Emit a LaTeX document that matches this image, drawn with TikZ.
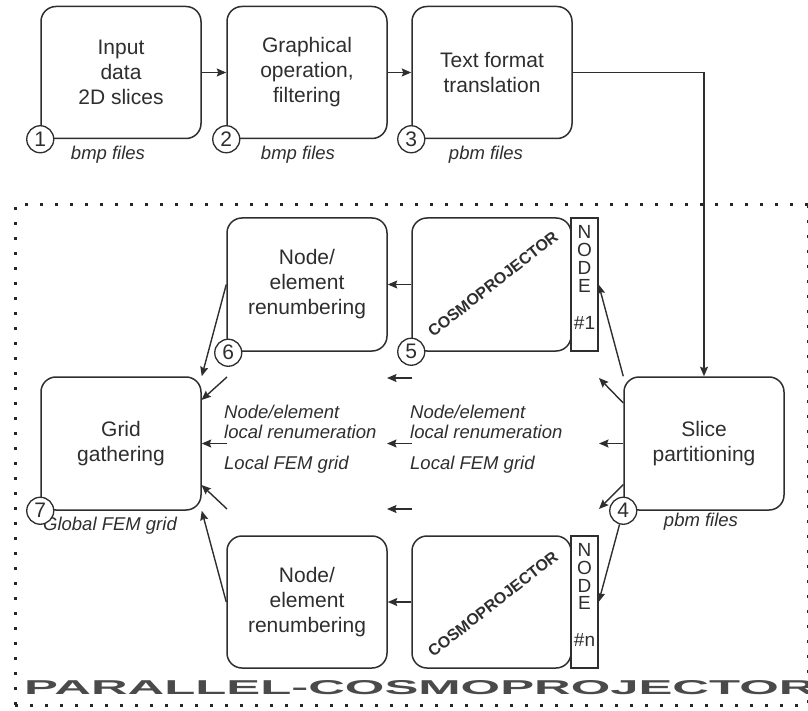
\documentclass[tikz,border=0pt]{standalone}
\usepackage{fontspec}
\setmainfont{Liberation Sans}
\usetikzlibrary{arrows.meta,calc}
\definecolor{ink}{HTML}{2E2E2E}
\definecolor{bannercol}{HTML}{4A4A4A}
\begin{document}
\begin{tikzpicture}[x=1pt,y=-1pt,
  box/.style={draw=ink, line width=1.5pt, rounded corners=15pt, minimum width=160pt, minimum height=132pt, inner sep=0pt, align=center, text=ink, font=\fontsize{21}{25}\selectfont},
  nodebar/.style={draw=ink, line width=1.3pt, minimum width=27pt, minimum height=133pt, inner sep=0pt},
  bartext/.style={inner sep=0pt, align=center, text=ink, font=\fontsize{19}{17.8}\selectfont},
  cosmo/.style={inner sep=0pt, rotate=38, text=ink, font=\bfseries\fontsize{16}{18}\selectfont},
  num/.style={circle, draw=ink, fill=white, line width=1.3pt, minimum size=27pt, inner sep=0pt, text=ink, font=\fontsize{21}{21}\selectfont},
  lbl/.style={text=ink, font=\itshape\fontsize{18.5}{21}\selectfont, inner sep=0pt},
  arr/.style={draw=ink, line width=1.4pt, -{Stealth[length=9.5pt, width=8pt, inset=1.5pt]}},
  framedots/.style={draw=black!85, line width=3pt, dash pattern=on 3pt off 12pt},
]
\useasboundingbox (0,0) rectangle (808,711);

% dotted frame
\draw[framedots] (15,705) -- (15,205) -- (808,205);
\draw[framedots] (15,705) -- (808,705);
\draw[framedots] (808,205) -- (808,705);

% top row
\node[box] (b1) at (121,72.5) {Input\\data\\2D slices};
\node[box] (b2) at (307,72.5) {Graphical\\operation,\\filtering};
\node[box] (b3) at (492,72.5) {Text format\\translation};

% upper branch
\node[box, minimum height=133pt] (r1) at (307,284.5) {Node/\\element\\renumbering};
\node[box, minimum width=159pt, minimum height=133pt] (p1) at (491.5,284.5) {};
\node[cosmo] (p1t) at (493,284) {COSMOPROJECTOR};
\node[nodebar] (n1) at (584.5,284.5) {};
\node[bartext] (n1t) at ($(n1)+(0,-7)$) {N\\O\\D\\E\\[19pt]\#1};

% middle
\node[box, minimum height=133pt] (g) at (121,443.5) {Grid\\gathering};
\node[box, minimum height=133pt] (s) at (704,443.5) {Slice\\partitioning};

% lower branch
\node[box] (r2) at (307,602) {Node/\\element\\renumbering};
\node[box, minimum width=159pt] (p2) at (491.5,602) {};
\node[cosmo] (p2t) at (493,604) {COSMOPROJECTOR};
\node[nodebar, minimum height=132pt] (n2) at (584.5,602) {};
\node[bartext] (n2t) at ($(n2)+(0,-7)$) {N\\O\\D\\E\\[19pt]\#n};

% labels
\node[lbl] (l1) at (108,155) {bmp files};
\node[lbl] (l2) at (298,155) {bmp files};
\node[lbl] (l3) at (486,155) {pbm files};
\node[lbl] (l4) at (701,522) {pbm files};
\node[lbl] (l7) at (110,526) {Global FEM grid};
\node[lbl, anchor=west] (ta1) at (224,412) {Node/element};
\node[lbl, anchor=west] (ta2) at (224,432) {local renumeration};
\node[lbl, anchor=west] (ta3) at (224,465) {Local FEM grid};
\node[lbl, anchor=west] (tb1) at (410,412) {Node/element};
\node[lbl, anchor=west] (tb2) at (410,432) {local renumeration};
\node[lbl, anchor=west] (tb3) at (410,465) {Local FEM grid};

% free-end coordinates
\coordinate (sa) at ($(s.west)+(0,-40.5)$);
\coordinate (sc) at ($(s.west)+(0,41)$);
\coordinate (ea) at (599,378);
\coordinate (eb) at (599,443.5);
\coordinate (ec) at (599,509);
\coordinate (ma1) at (412,378);
\coordinate (ma2) at (387,378);
\coordinate (mb1) at (412,443.5);
\coordinate (mb2) at (387,443.5);
\coordinate (mc1) at (412,509);
\coordinate (mc2) at (387,509);
\coordinate (la1) at (227,377);
\coordinate (la2) at (201.5,400);
\coordinate (lb1) at (227,443.5);
\coordinate (lc1) at (227,509);
\coordinate (lc2) at (201.5,485);

% connectors
\draw[arr] (b1.east) -- (b2.west);
\draw[arr] (b2.east) -- (b3.west);
\draw[arr] (b3.east) -| (s.north);
\draw[arr] (p1.west) -- (r1.east);
\draw[arr] (p2.west) -- (r2.east);
\draw[arr] (s.north west) -- (n1.east);
\draw[arr] (sa) -- (ea);
\draw[arr] (s.west) -- (eb);
\draw[arr] (sc) -- (ec);
\draw[arr] (ma1) -- (ma2);
\draw[arr] (mb1) -- (mb2);
\draw[arr] (mc1) -- (mc2);
\draw[arr] (la1) -- (la2);
\draw[arr] (lb1) -- (g.east);
\draw[arr] (lc1) -- (lc2);
\draw[arr] (r1.west) -- (g.north east);
\draw[arr] (r2.west) -- (g.south east);

% numbered circles
\node[num] (c1) at (b1.south west) {1};
\node[num] (c2) at (b2.south west) {2};
\node[num] (c3) at (b3.south west) {3};
\node[num] (c5) at (p1.south west) {5};
\node[num] (c6) at ($(r1.south west)+(2,1)$) {6};
\node[num] (c7) at (g.south west) {7};
\node[num] (c4) at (s.south west) {4};
\draw[arr] (c4) -- (n2.east);

% banner
\node[anchor=west, inner sep=0pt, text=bannercol] (ban) at (24,688) {\resizebox{791pt}{14pt}{\bfseries PARALLEL-COSMOPROJECTOR}};
\end{tikzpicture}
\end{document}
